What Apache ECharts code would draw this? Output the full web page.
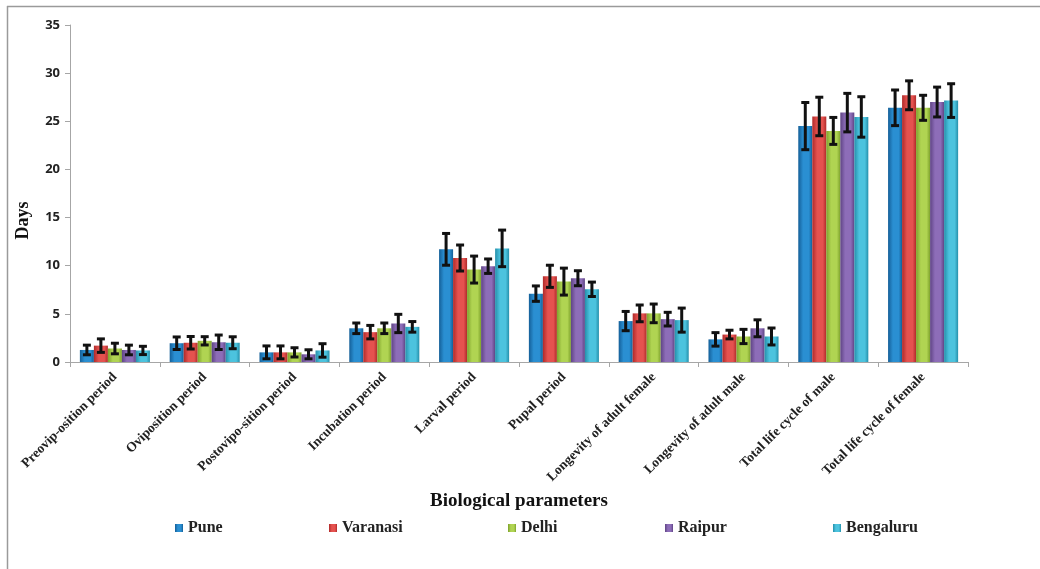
<!DOCTYPE html>
<html>
<head>
<meta charset="utf-8">
<script src="https://cdn.jsdelivr.net/npm/echarts@6/dist/echarts.min.js"></script>
<style>
  html, body { margin: 0; padding: 0; background: #fff; }
  #chart { width: 1040px; height: 569px; }
</style>
</head>
<body>
<div id="chart"></div>
<script>
// categories on the x axis
var categories = [
    'Preovip-osition period', 'Oviposition period', 'Postovipo-sition period',
    'Incubation period', 'Larval period', 'Pupal period',
    'Longevity of adult female', 'Longevity of adult male',
    'Total life cycle of male', 'Total life cycle of female'
];
var cities = ['Pune', 'Varanasi', 'Delhi', 'Raipur', 'Bengaluru'];
var yTicks = [0, 5, 10, 15, 20, 25, 30, 35];

// mean days per city
var pune      = [1.25, 1.95, 1.0, 3.5, 11.7, 7.1, 4.25, 2.35, 24.5, 26.4];
var varanasi  = [1.7, 2.0, 1.0, 3.1, 10.8, 8.9, 5.05, 2.85, 25.5, 27.7];
var delhi     = [1.4, 2.2, 1.0, 3.5, 9.6, 8.35, 5.05, 2.65, 24.0, 26.4];
var raipur    = [1.25, 2.05, 0.8, 4.0, 9.95, 8.7, 4.45, 3.5, 25.9, 27.0];
var bengaluru = [1.2, 2.0, 1.2, 3.65, 11.8, 7.55, 4.35, 2.65, 25.45, 27.15];

// standard deviations (error bars)
var puneErr      = [0.5, 0.65, 0.67, 0.55, 1.65, 0.8, 1.0, 0.7, 2.45, 1.85];
var varanasiErr  = [0.7, 0.65, 0.67, 0.7, 1.35, 1.15, 0.87, 0.45, 2.0, 1.5];
var delhiErr     = [0.55, 0.43, 0.48, 0.55, 1.4, 1.4, 0.97, 0.74, 1.4, 1.3];
var raipurErr    = [0.5, 0.75, 0.47, 0.95, 0.75, 0.78, 0.71, 0.88, 2.0, 1.55];
var bengaluruErr = [0.43, 0.62, 0.7, 0.55, 1.9, 0.75, 1.25, 0.88, 2.1, 1.75];

var means = [pune, varanasi, delhi, raipur, bengaluru];
var errs = [puneErr, varanasiErr, delhiErr, raipurErr, bengaluruErr];

// [dark edge, light centre]
var palette = [
    ['#145f98', '#2a8fd2'],
    ['#b02a2a', '#e5524f'],
    ['#7ea22c', '#b0d452'],
    ['#5f4485', '#8d6db8'],
    ['#2590ab', '#4cc3de']
];
// left offset of each legend entry
var legendLeft = [170, 324, 503, 660, 828];

var CAT_GAP = 0.22;

function barColor(c) {
    return {
        type: 'linear', x: 0, y: 0, x2: 1, y2: 0,
        colorStops: [
            { offset: 0, color: c[0] },
            { offset: 0.35, color: c[1] },
            { offset: 0.75, color: c[1] },
            { offset: 1, color: c[0] }
        ]
    };
}

var chart = echarts.init(document.getElementById('chart'));

var series = [];
cities.forEach(function (name, i) {
    series.push({
        name: name,
        type: 'bar',
        data: means[i],
        barGap: '0%',
        barCategoryGap: (CAT_GAP * 100) + '%',
        itemStyle: { color: barColor(palette[i]) },
        emphasis: { disabled: true }
    });
});

// error bars drawn on top of each bar
cities.forEach(function (name, i) {
    series.push({
        type: 'custom',
        name: name + ' err',
        z: 10,
        silent: true,
        data: means[i].map(function (v, k) { return [k, v, errs[i][k]]; }),
        renderItem: function (params, api) {
            var k = api.value(0);
            var v = api.value(1);
            var e = api.value(2);
            var band = api.size([1, 0])[0];
            var bw = band * (1 - CAT_GAP) / cities.length;
            var dx = (i - (cities.length - 1) / 2) * bw;
            var hi = api.coord([k, v + e]);
            var lo = api.coord([k, v - e]);
            var x = hi[0] + dx;
            var cap = 4;
            var st = { stroke: '#111', lineWidth: 3 };
            return {
                type: 'group',
                children: [
                    { type: 'line', shape: { x1: x, y1: hi[1], x2: x, y2: lo[1] }, style: st },
                    { type: 'line', shape: { x1: x - cap, y1: hi[1], x2: x + cap, y2: hi[1] }, style: st },
                    { type: 'line', shape: { x1: x - cap, y1: lo[1], x2: x + cap, y2: lo[1] }, style: st }
                ]
            };
        }
    });
});

var legends = cities.map(function (name, i) {
    return {
        data: [name],
        top: 515,
        left: legendLeft[i],
        itemWidth: 8,
        itemHeight: 8,
        itemGap: 4,
        icon: 'rect',
        textStyle: {
            fontFamily: 'Liberation Serif',
            fontWeight: 'bold',
            fontSize: 16,
            color: '#222'
        }
    };
});

var option = {
    backgroundColor: '#fff',
    animation: false,
    legend: legends,
    grid: { left: 70, right: 72, top: 25, bottom: 207 },
    xAxis: {
        type: 'category',
        data: categories,
        name: 'Biological parameters',
        nameLocation: 'middle',
        nameGap: 125,
        nameTextStyle: {
            fontFamily: 'Liberation Serif',
            fontWeight: 'bold',
            fontSize: 19,
            color: '#111'
        },
        axisLine: { lineStyle: { color: '#a6a6a6' } },
        axisTick: { show: true, length: 5, lineStyle: { color: '#a6a6a6' } },
        axisLabel: {
            interval: 0,
            rotate: 45,
            margin: 13,
            fontFamily: 'Liberation Serif',
            fontWeight: 'bold',
            fontSize: 13.5,
            color: '#222'
        }
    },
    yAxis: {
        type: 'value',
        min: yTicks[0],
        max: yTicks[yTicks.length - 1],
        interval: 5,
        name: 'Days',
        nameLocation: 'middle',
        nameGap: 38,
        nameTextStyle: {
            fontFamily: 'Liberation Serif',
            fontWeight: 'bold',
            fontSize: 18,
            color: '#111',
            padding: [0, 54, 0, 0]
        },
        axisLine: { show: true, lineStyle: { color: '#a6a6a6' } },
        axisTick: { show: true, length: 5, inside: false, lineStyle: { color: '#a6a6a6' } },
        splitLine: { show: false },
        axisLabel: {
            margin: 10,
            fontFamily: 'Open Sans',
            fontWeight: 'bold',
            fontSize: 13,
            color: '#222'
        }
    },
    graphic: [
        { type: 'line', shape: { x1: 7, y1: 6.5, x2: 1040, y2: 6.5 }, style: { stroke: '#9a9a9a', lineWidth: 1.5 } },
        { type: 'line', shape: { x1: 7.5, y1: 6, x2: 7.5, y2: 569 }, style: { stroke: '#9a9a9a', lineWidth: 1.5 } }
    ],
    series: series
};

chart.setOption(option);
</script>
</body>
</html>
